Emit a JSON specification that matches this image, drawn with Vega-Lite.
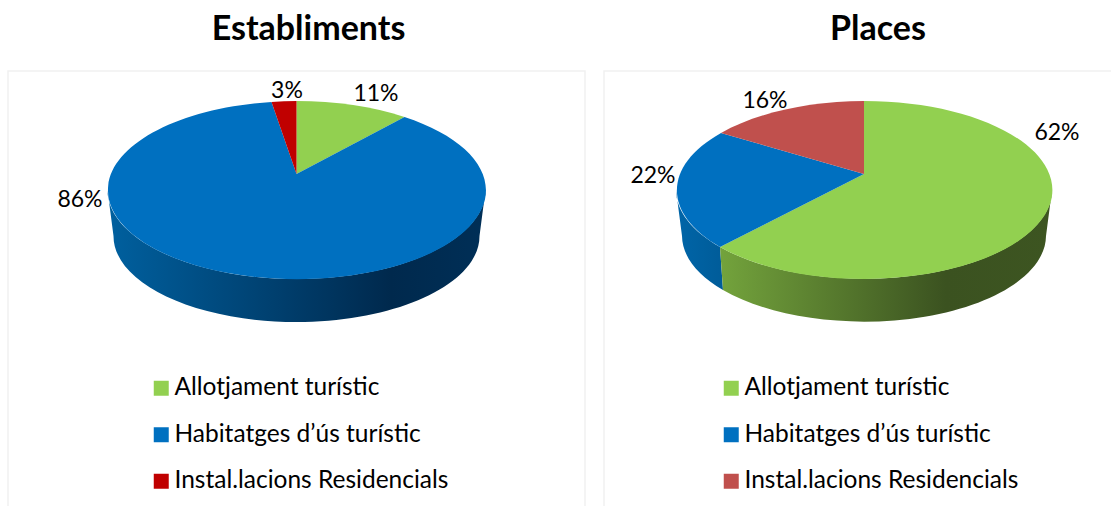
{
  "$schema": "https://vega.github.io/schema/vega-lite/v6.json",
  "background": "white",
  "padding": {"left": 7, "top": 12, "right": 0, "bottom": 0},
  "spacing": 17,
  "resolve": {"scale": {"shape": "independent", "fill": "independent"}, "legend": {"fill": "independent"}},
  "config": {
    "font": "Lato",
    "view": {"stroke": "#F1F1F1", "strokeWidth": 1.5},
    "title": {"font": "Lato", "fontSize": 34, "fontWeight": "bold", "color": "#000000", "anchor": "middle", "offset": 24},
    "legend": {"labelFont": "Lato", "labelFontSize": 24.5, "labelColor": "#000000", "labelLimit": 400, "symbolType": "square", "symbolSize": 225, "symbolStrokeWidth": 0, "labelOffset": 1, "rowPadding": 21.5, "padding": 0, "title": null}
  },
  "hconcat": [
    {
      "title": {"text": "Establiments", "dx": 12},
      "width": 577,
      "height": 440,
      "data": {"values": [
        {"grafic": "Establiments", "categoria": "Allotjament turístic", "valor": 0.11},
        {"grafic": "Establiments", "categoria": "Habitatges d’ús turístic", "valor": 0.86},
        {"grafic": "Establiments", "categoria": "Instal.lacions Residencials", "valor": 0.03}
      ]},
      "resolve": {"scale": {"x": "independent", "y": "independent"}},
      "layer": [
        {
          "transform": [{"filter": "datum.categoria === 'Habitatges d’ús turístic'"}],
          "mark": {
            "type": "point", "filled": true, "opacity": 1, "size": 4,
            "shape": "M-189,16A189,89 0 0 0 189,16L183,62A183,86 0 0 1 -183,62Z",
            "fill": {"gradient": "linear", "x1": 0, "x2": 1, "y1": 0, "y2": 0, "stops": [
              {"offset": 0, "color": "#00609F"},
              {"offset": 0.75, "color": "#00294D"},
              {"offset": 1, "color": "#002F57"}
            ]}
          },
          "encoding": {
            "x": {"field": "grafic", "type": "nominal", "axis": null},
            "y": {"field": "grafic", "type": "nominal", "axis": null, "scale": {"range": [103, 103]}}
          }
        },
        {
          "mark": {"type": "point", "filled": true, "opacity": 1, "size": 4},
          "encoding": {
            "x": {"field": "grafic", "type": "nominal", "axis": null},
            "y": {"field": "grafic", "type": "nominal", "axis": null, "scale": {"range": [103, 103]}},
            "shape": {
              "field": "categoria", "type": "nominal", "legend": null,
              "scale": {
                "domain": ["Instal.lacions Residencials", "Habitatges d’ús turístic", "Allotjament turístic"],
                "range": [
                  "M0,0L-25,-72A189,89 0 0 1 0,-73Z",
                  "M0,0L108,-57A189,89 0 1 1 -25,-72Z",
                  "M0,0L0,-73A189,89 0 0 1 108,-57Z"
                ]
              }
            },
            "fill": {
              "field": "categoria", "type": "nominal",
              "scale": {
                "domain": ["Allotjament turístic", "Habitatges d’ús turístic", "Instal.lacions Residencials"],
                "range": ["#92D050", "#0070C0", "#C00000"]
              },
              "legend": {"orient": "none", "legendX": 141, "legendY": 305}
            }
          }
        },
        {
          "mark": {"type": "text", "fontSize": 23, "font": "Lato", "color": "#000000", "baseline": "middle", "align": "center"},
          "encoding": {
            "x": {"field": "valor", "type": "quantitative", "axis": null, "scale": {"domain": [0.03, 0.11, 0.86], "range": [279, 368, 72]}},
            "y": {"field": "valor", "type": "quantitative", "axis": null, "scale": {"domain": [0.03, 0.11, 0.86], "range": [20, 23, 129]}},
            "text": {"field": "valor", "type": "quantitative", "format": ".0%"}
          }
        }
      ]
    },
    {
      "title": {"text": "Places", "dx": 14},
      "width": 520,
      "height": 440,
      "data": {"values": [
        {"grafic": "Places", "categoria": "Allotjament turístic", "valor": 0.62},
        {"grafic": "Places", "categoria": "Habitatges d’ús turístic", "valor": 0.22},
        {"grafic": "Places", "categoria": "Instal.lacions Residencials", "valor": 0.16}
      ]},
      "resolve": {"scale": {"x": "independent", "y": "independent"}},
      "layer": [
        {
          "transform": [{"filter": "datum.categoria === 'Habitatges d’ús turístic'"}],
          "mark": {
            "type": "point", "filled": true, "opacity": 1, "size": 4,
            "shape": "M-188,16A188,89 0 0 0 -144,73L-141,116A182,86 0 0 1 -182,62Z",
            "fill": {"gradient": "linear", "x1": 0, "x2": 1, "y1": 0, "y2": 0, "stops": [
              {"offset": 0, "color": "#0065A8"},
              {"offset": 1, "color": "#005C99"}
            ]}
          },
          "encoding": {
            "x": {"field": "grafic", "type": "nominal", "axis": null},
            "y": {"field": "grafic", "type": "nominal", "axis": null, "scale": {"range": [103, 103]}}
          }
        },
        {
          "transform": [{"filter": "datum.categoria === 'Allotjament turístic'"}],
          "mark": {
            "type": "point", "filled": true, "opacity": 1, "size": 4,
            "shape": "M-144,73A188,89 0 0 0 188,16L182,62A182,86 0 0 1 -141,116Z",
            "fill": {"gradient": "linear", "x1": 0, "x2": 1, "y1": 0, "y2": 0, "stops": [
              {"offset": 0, "color": "#73A33C"},
              {"offset": 0.68, "color": "#3B5220"},
              {"offset": 1, "color": "#3D5521"}
            ]}
          },
          "encoding": {
            "x": {"field": "grafic", "type": "nominal", "axis": null},
            "y": {"field": "grafic", "type": "nominal", "axis": null, "scale": {"range": [103, 103]}}
          }
        },
        {
          "mark": {"type": "point", "filled": true, "opacity": 1, "size": 4},
          "encoding": {
            "x": {"field": "grafic", "type": "nominal", "axis": null},
            "y": {"field": "grafic", "type": "nominal", "axis": null, "scale": {"range": [103, 103]}},
            "shape": {
              "field": "categoria", "type": "nominal", "legend": null,
              "scale": {
                "domain": ["Instal.lacions Residencials", "Habitatges d’ús turístic", "Allotjament turístic"],
                "range": [
                  "M0,0L-143,-41A188,89 0 0 1 0,-73Z",
                  "M0,0L-144,73A188,89 0 0 1 -143,-41Z",
                  "M0,0L0,-73A188,89 0 1 1 -144,73Z"
                ]
              }
            },
            "fill": {
              "field": "categoria", "type": "nominal",
              "scale": {
                "domain": ["Allotjament turístic", "Habitatges d’ús turístic", "Instal.lacions Residencials"],
                "range": ["#92D050", "#0070C0", "#C0504D"]
              },
              "legend": {"orient": "none", "legendX": 115, "legendY": 305}
            }
          }
        },
        {
          "mark": {"type": "text", "fontSize": 23, "font": "Lato", "color": "#000000", "baseline": "middle", "align": "center"},
          "encoding": {
            "x": {"field": "valor", "type": "quantitative", "axis": null, "scale": {"domain": [0.16, 0.22, 0.62], "range": [161, 49, 453]}},
            "y": {"field": "valor", "type": "quantitative", "axis": null, "scale": {"domain": [0.16, 0.22, 0.62], "range": [30, 105, 62]}},
            "text": {"field": "valor", "type": "quantitative", "format": ".0%"}
          }
        }
      ]
    }
  ]
}
